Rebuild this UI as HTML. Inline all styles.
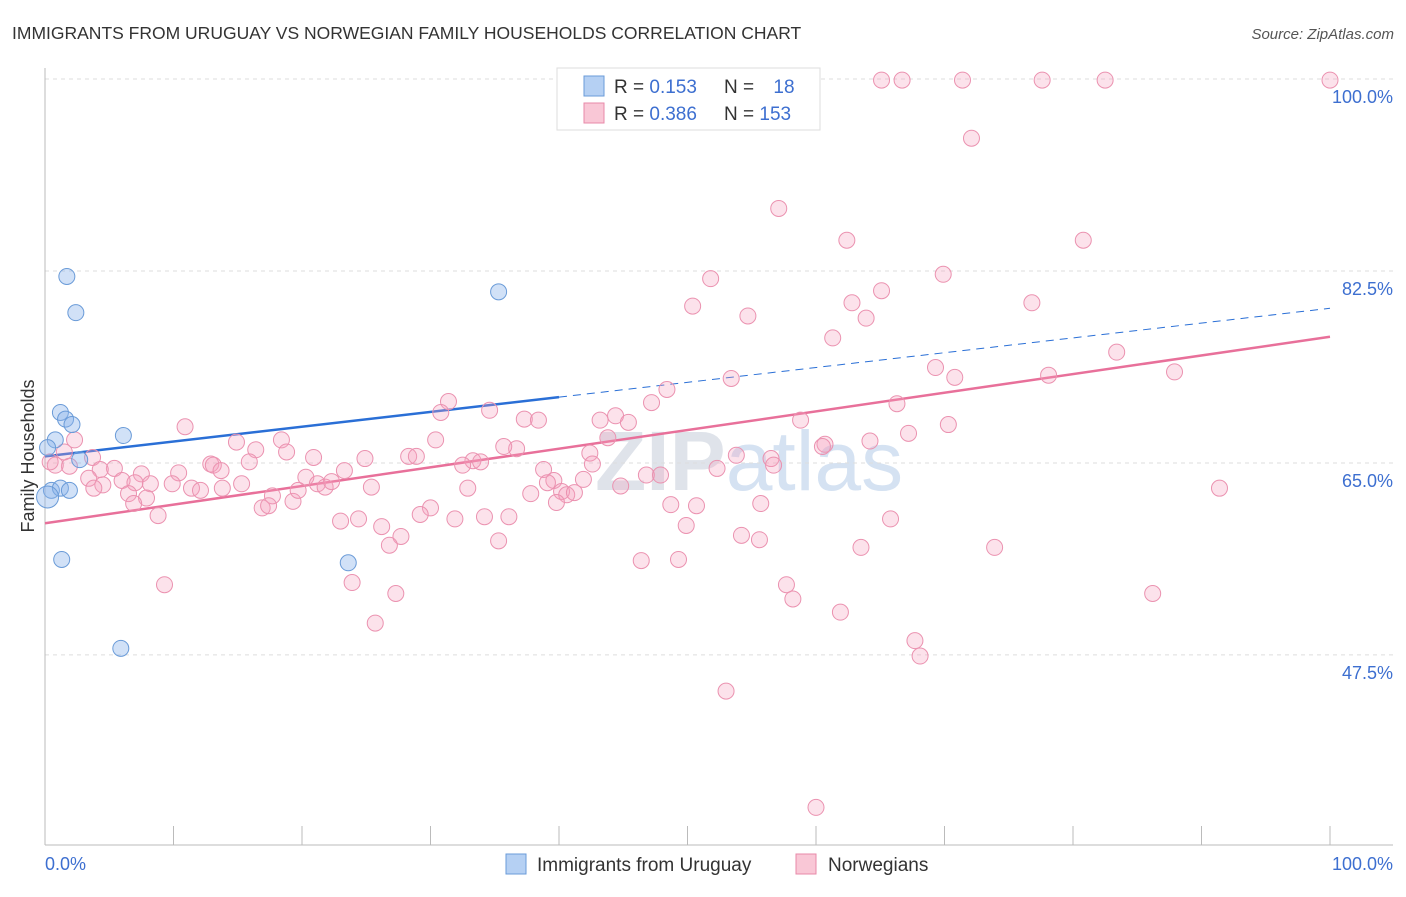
<!DOCTYPE html>
<html><head><meta charset="utf-8"><style>
body{margin:0;background:#fff;font-family:"Liberation Sans",sans-serif;}
svg text{font-family:"Liberation Sans",sans-serif;}
</style></head><body>
<svg width="1406" height="892" viewBox="0 0 1406 892" xmlns="http://www.w3.org/2000/svg">
<text x="12" y="39" font-size="17.5" fill="#333">IMMIGRANTS FROM URUGUAY VS NORWEGIAN FAMILY HOUSEHOLDS CORRELATION CHART</text>
<text x="1394" y="39" font-size="15" fill="#555" font-style="italic" text-anchor="end">Source: ZipAtlas.com</text>
<text x="595" y="490" font-size="84" fill="#dfe3ea" font-weight="bold">ZIP<tspan fill="#d5e2f2" font-weight="normal">atlas</tspan></text>
<g id="grid"></g>
<g id="axes"></g>
<g id="lines"></g>
<g id="pts"></g>
<text transform="translate(34,456) rotate(-90)" font-size="18" fill="#333" text-anchor="middle">Family Households</text>
<text x="45" y="870" font-size="18" fill="#3d6fd0">0.0%</text>
<text x="1393" y="870" font-size="18" fill="#3d6fd0" text-anchor="end">100.0%</text>
<g>
<rect x="557" y="68" width="263" height="62" fill="#fff" stroke="#ddd"/>
<rect x="584" y="76" width="20" height="20" fill="#b5d0f3" stroke="#6a9bd8"/>
<rect x="584" y="103" width="20" height="20" fill="#f9c7d6" stroke="#e88aa8"/>
<text x="614" y="93" font-size="19" fill="#333">R = <tspan fill="#3d6fd0">0.153</tspan></text>
<text x="724" y="93" font-size="19" fill="#333">N = <tspan fill="#3d6fd0" dx="14">18</tspan></text>
<text x="614" y="120" font-size="19" fill="#333">R = <tspan fill="#3d6fd0">0.386</tspan></text>
<text x="724" y="120" font-size="19" fill="#333">N = <tspan fill="#3d6fd0">153</tspan></text>
</g>
<g>
<rect x="506" y="854" width="20" height="20" fill="#b5d0f3" stroke="#6a9bd8"/>
<text x="537" y="871" font-size="19" fill="#333">Immigrants from Uruguay</text>
<rect x="796" y="854" width="20" height="20" fill="#f9c7d6" stroke="#e88aa8"/>
<text x="828" y="871" font-size="19" fill="#333">Norwegians</text>
</g>
</svg>
<script>
const yTicks=[100,82.5,65,47.5];
const yTickLabels=["100.0%","82.5%","65.0%","47.5%"];
const blueX=[1.7,2.4,35.3,1.2,1.6,2.1,6.1,0.8,2.7,0.2,0.5,1.2,1.9,0.2,1.3,23.6,5.9];
const blueY=[82.0,78.7,80.6,69.6,69.0,68.5,67.5,67.1,65.3,66.4,62.5,62.7,62.5,61.9,56.2,55.9,48.1];
const pinkX=[65.1,66.7,71.4,77.6,82.5,100,72.1,57.1,62.4,80.8,51.8,69.9,65.1,50.4,62.8,76.8,54.7,63.9,61.3,83.4,69.3,53.4,70.8,48.4,78.1,87.9,31.4,30.8,47.2,34.6,66.3,37.3,38.4,43.2,44.4,45.4,58.8,70.3,10.9,67.2,2.3,14.9,30.4,43.8,64.2,60.7,60.5,16.4,18.4,18.8,36.7,35.7,42.4,53.8,56.5,1.5,3.7,1.9,20.9,24.9,28.3,28.9,33.3,33.9,32.5,12.9,15.9,13.1,56.7,38.8,42.6,52.3,46.8,47.9,5.4,4.3,7.5,10.4,13.7,23.3,20.3,39.6,41.9,39.1,3.4,6.0,4.5,7.0,8.2,9.9,11.4,12.1,15.3,13.8,21.2,21.8,22.3,25.4,32.9,44.8,91.4,3.8,6.5,17.7,19.3,19.7,40.2,40.6,41.2,37.8,39.8,7.9,6.9,16.9,17.4,30.0,29.2,31.9,34.2,36.1,48.7,50.7,55.7,65.8,8.8,23.0,24.4,26.2,27.7,49.9,54.2,55.6,35.3,26.8,63.5,73.9,46.4,49.3,9.3,23.9,57.7,58.2,27.3,86.2,61.9,25.7,67.7,68.1,53.0,60.0,0.8,0.4];
const pinkY=[99.9,99.9,99.9,99.9,99.9,99.9,94.6,88.2,85.3,85.3,81.8,82.2,80.7,79.3,79.6,79.6,78.4,78.2,76.4,75.1,73.7,72.7,72.8,71.7,73.0,73.3,70.6,69.6,70.5,69.8,70.4,69.0,68.9,68.9,69.3,68.7,68.9,68.5,68.3,67.7,67.1,66.9,67.1,67.3,67.0,66.7,66.5,66.2,67.1,66.0,66.3,66.5,65.9,65.7,65.4,66.0,65.5,64.7,65.5,65.4,65.6,65.6,65.2,65.1,64.8,64.9,65.1,64.8,64.8,64.4,64.9,64.5,63.9,63.9,64.5,64.4,64.0,64.1,64.3,64.3,63.7,63.4,63.5,63.2,63.6,63.4,63.0,63.2,63.1,63.1,62.7,62.5,63.1,62.7,63.1,62.8,63.3,62.8,62.7,62.9,62.7,62.7,62.2,62.0,61.5,62.5,62.4,62.1,62.3,62.2,61.4,61.8,61.3,60.9,61.1,60.9,60.3,59.9,60.1,60.1,61.2,61.1,61.3,59.9,60.2,59.7,59.9,59.2,58.3,59.3,58.4,58.0,57.9,57.5,57.3,57.3,56.1,56.2,53.9,54.1,53.9,52.6,53.1,53.1,51.4,50.4,48.8,47.4,44.2,33.6,64.8,65.1];
const blueTrend=[65.6,79.1];
const pinkTrend=[59.5,76.5];
const NS="http://www.w3.org/2000/svg";
const xs=v=>45+v*12.85;
const ys=v=>79+(100-v)*10.97;
function mk(tag,attrs,parent){const e=document.createElementNS(NS,tag);for(const k in attrs)e.setAttribute(k,attrs[k]);parent.appendChild(e);return e;}
const grid=document.getElementById('grid'),axes=document.getElementById('axes'),lines=document.getElementById('lines'),pts=document.getElementById('pts');
yTicks.forEach((t,i)=>{
 const l=mk('line',{x1:45,x2:1393,y1:ys(t),y2:ys(t),stroke:'#ddd','stroke-dasharray':'4,4'},grid);
 
 
 const tx=mk('text',{x:1393,y:ys(t)+24,'font-size':18,fill:'#3d6fd0','text-anchor':'end'},grid);
 tx.textContent=yTickLabels[i];
 
 
});
const ax=mk('line',{x1:45,x2:1393,y1:845,y2:845,stroke:'#bbb'},axes);


const ay=mk('line',{x1:45,x2:45,y1:68,y2:845,stroke:'#bbb'},axes);


for(let i=0;i<=10;i++){
 const tk=mk('line',{x1:xs(i*10),x2:xs(i*10),y1:826,y2:845,stroke:'#bbb'},axes);
 
 
}
const bx=40,by=blueTrend[0]+(blueTrend[1]-blueTrend[0])*bx/100;
const b1=mk('line',{x1:xs(0),y1:ys(blueTrend[0]),x2:xs(bx),y2:ys(by),stroke:'#2a6fd6','stroke-width':2.5},lines);


const b2=mk('line',{x1:xs(bx),y1:ys(by),x2:xs(100),y2:ys(blueTrend[1]),stroke:'#2a6fd6','stroke-width':1,'stroke-dasharray':'8,6'},lines);


const p1=mk('line',{x1:xs(0),y1:ys(pinkTrend[0]),x2:xs(100),y2:ys(pinkTrend[1]),stroke:'#e8709a','stroke-width':2.5},lines);


pinkX.forEach((x,i)=>{
 const c=mk('circle',{cx:xs(x),cy:ys(pinkY[i]),r:8,fill:'rgba(244,160,188,0.3)',stroke:'#eb92b0','stroke-width':1},pts);
 
 
});
blueX.forEach((x,i)=>{
 const c=mk('circle',{cx:xs(x),cy:ys(blueY[i]),r:(i==13?11:8),fill:'rgba(140,180,235,0.4)',stroke:'#6a9bd8','stroke-width':1},pts);
 
 
});
</script>
</body></html>
